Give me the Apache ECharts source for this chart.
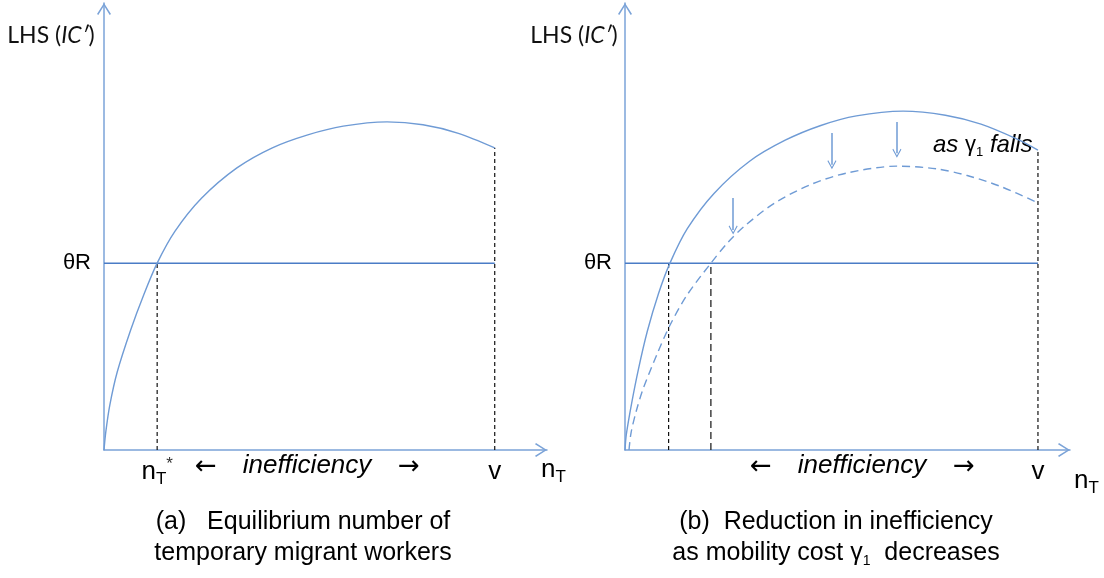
<!DOCTYPE html>
<html><head><meta charset="utf-8">
<script src="https://cdn.jsdelivr.net/npm/echarts@6/dist/echarts.min.js"></script>
<style>html,body{margin:0;padding:0;background:#fff}#c{width:1104px;height:578px}</style>
</head><body><div id="c"></div>
<script>
// ---- data (arbitrary units, axes run 0..100) ----
const thetaR = 41.8;
// panel (a)
const leftX = [0, 0.4, 1.3, 3.0, 6.0, 9.0, 12.0, 16.0, 22.0, 30.0, 38.0, 46.0, 54.0, 63.9, 72.0, 80.0, 88.2];
const leftY = [0, 4.0, 10.0, 17.5, 26.8, 34.8, 41.8, 48.9, 56.3, 63.1, 67.6, 70.5, 72.45, 73.4, 72.75, 70.85, 67.6];
const leftNStar = 12.0;
const leftV = 88.2;
// panel (b)
const solidX = [0, 0.3, 1.5, 3.0, 5.0, 7.5, 10.1, 14.0, 20.0, 28.0, 36.0, 44.0, 52.0, 62.5, 72.0, 80.0, 88.0, 92.8];
const solidY = [0, 3.5, 10.5, 18.0, 26.5, 34.9, 41.8, 49.5, 57.4, 64.6, 69.3, 72.6, 74.75, 75.8, 74.9, 72.9, 69.6, 67.1];
const dashX = [0.9, 1.35, 2.5, 4.04, 7.19, 10.1, 13.9, 19.3, 23.1, 27.0, 33.7, 42.0, 50.0, 61.1, 70.0, 76.9, 84.3, 92.8];
const dashY = [0, 3.8, 8.6, 13.6, 21.4, 27.9, 34.6, 41.8, 46.4, 50.2, 55.3, 59.5, 62.0, 63.5, 62.9, 61.4, 59.0, 55.3];
const rightN1 = 9.8;
const rightN2 = 19.3;
const rightV = 92.8;
// downward arrows "as γ1 falls": x, from y, to y
const arrowX = [24.3, 46.5, 61.1];
const arrowFrom = [56.4, 70.9, 73.4];
const arrowTo = [49.2, 63.8, 66.4];
// tick labels
const yTickLabel = 'θR';
const leftXTicks = [leftNStar, leftV];
const leftXTickLabels = ['{n|n}{t|T}{s|*}', '{v|v}'];
const rightXTicks = [rightV];
const rightXTickLabels = ['{v|v}'];

const axisColor = '#7ba3d8';
const curveColor = '#6f9bd5';
const levelColor = '#4a7cc6';
const chevron = 'path://M0,11 L7,0 L14,11 L12.7,12 L7,2.7 L1.3,12 Z';
const headPath = 'path://M0,9 L6,0 L12,9 L10.9,9.8 L6,2.4 L1.1,9.8 Z';

function zip(xs, ys) { return xs.map((x, i) => [x, ys[i]]); }
function vline(x, y) { return [[x, 0], [x, y]]; }

const labelRich = {
  n: { fontFamily: 'Liberation Sans', fontSize: 26, lineHeight: 32, color: '#000' },
  t: { fontFamily: 'Liberation Sans', fontSize: 17, lineHeight: 14, verticalAlign: 'bottom', color: '#000' },
  s: { fontFamily: 'Liberation Sans', fontSize: 17, lineHeight: 24, verticalAlign: 'top', color: '#333' },
  v: { fontFamily: 'Liberation Sans', fontSize: 26, lineHeight: 32, color: '#000' }
};

function makeX(gi, ticks, labels) {
  return {
    type: 'value', gridIndex: gi, min: 0, max: 100,
    axisLine: { show: true, onZero: false, lineStyle: { color: axisColor, width: 1.5 },
      symbol: ['none', chevron], symbolSize: [14, 12], symbolOffset: [0, -6] },
    axisTick: { show: false }, splitLine: { show: false },
    axisLabel: { show: true, customValues: ticks, margin: 6, verticalAlign: 'top',
      formatter: v => labels[ticks.indexOf(v)] || '', rich: labelRich }
  };
}
function makeY(gi) {
  return {
    type: 'value', gridIndex: gi, min: 0, max: 100,
    axisLine: { show: true, onZero: false, lineStyle: { color: axisColor, width: 1.5 },
      symbol: ['none', chevron], symbolSize: [14, 12], symbolOffset: [0, -6] },
    axisTick: { show: false }, splitLine: { show: false },
    axisLabel: { show: true, customValues: [thetaR], margin: 13, verticalAlign: 'middle',
      formatter: () => yTickLabel, fontFamily: 'Liberation Sans', fontSize: 22, color: '#000' }
  };
}

const dashStyle = { color: '#111', width: 1.2, type: [4, 3] };
function seg(name, xi, yi, data, style) {
  return { type: 'line', name, xAxisIndex: xi, yAxisIndex: yi, data, symbol: 'none', silent: true,
    lineStyle: style, z: 1 };
}
function curve(name, xi, yi, data, style) {
  return { type: 'line', name, xAxisIndex: xi, yAxisIndex: yi, data, symbol: 'none', silent: true,
    smooth: 0.3, lineStyle: style, z: 3 };
}

const series = [
  // panel (a)
  seg('thetaR-a', 0, 0, [[0, thetaR], [leftV, thetaR]], { color: levelColor, width: 1.5 }),
  seg('nstar-a', 0, 0, vline(leftNStar, thetaR), dashStyle),
  seg('v-a', 0, 0, vline(leftV, leftY[leftY.length - 1]), dashStyle),
  curve('LHS-a', 0, 0, zip(leftX, leftY), { color: curveColor, width: 1.4 }),
  // panel (b)
  seg('thetaR-b', 1, 1, [[0, thetaR], [rightV, thetaR]], { color: levelColor, width: 1.5 }),
  seg('n1-b', 1, 1, vline(rightN1, thetaR), dashStyle),
  seg('n2-b', 1, 1, vline(rightN2, thetaR), { color: '#222', width: 1.3, type: [7, 4] }),
  seg('v-b', 1, 1, vline(rightV, solidY[solidY.length - 1]), dashStyle),
  curve('LHS-b', 1, 1, zip(solidX, solidY), { color: curveColor, width: 1.4 }),
  curve('LHS-b-low', 1, 1, zip(dashX, dashY), { color: curveColor, width: 1.4, type: [8, 5] }),
  { type: 'lines', name: 'arrows', coordinateSystem: 'cartesian2d', xAxisIndex: 1, yAxisIndex: 1,
    symbol: ['none', headPath], symbolSize: [12, 9], silent: true,
    lineStyle: { color: curveColor, width: 1.5, opacity: 1 },
    data: arrowX.map((x, i) => ({ coords: [[x, arrowFrom[i]], [x, arrowTo[i]]] })), z: 4 }
];

const txt = (x, y, text, extra) => ({ type: 'text', x, y, silent: true,
  style: Object.assign({ text, fill: '#000', align: 'center', verticalAlign: 'middle',
    fontFamily: 'Liberation Sans', fontSize: 26 }, extra) });

const lhsRich = { r: { fontFamily: 'Lato', fontSize: 23, fill: '#111' },
  i: { fontFamily: 'Lato', fontStyle: 'italic', fontSize: 23, fill: '#111' } };
const nRich = {
  n: { fontFamily: 'Liberation Sans', fontSize: 26, lineHeight: 32, fill: '#000' },
  t: { fontFamily: 'Liberation Sans', fontSize: 17, lineHeight: 14, verticalAlign: 'bottom', fill: '#000' }
};
const capRich = {
  a: { fontFamily: 'Liberation Sans', fontSize: 25, lineHeight: 30, fill: '#000' },
  g: { fontFamily: 'Liberation Sans', fontSize: 25, lineHeight: 30, fill: '#000' },
  s: { fontFamily: 'Liberation Sans', fontSize: 14, lineHeight: 14, verticalAlign: 'bottom', fill: '#000' }
};
const fallRich = {
  i: { fontFamily: 'Liberation Sans', fontStyle: 'italic', fontSize: 24, lineHeight: 28, fill: '#000' },
  g: { fontFamily: 'Liberation Sans', fontSize: 22, lineHeight: 28, fill: '#000' },
  s: { fontFamily: 'Liberation Sans', fontSize: 13, lineHeight: 12, verticalAlign: 'bottom', fill: '#000' }
};
const arrowFont = { fontFamily: 'DejaVu Sans', fontSize: 26 };

const graphic = [
  txt(51, 36, '{r|LHS (}{i|IC′}{r|)}', { rich: lhsRich }),
  txt(574, 36, '{r|LHS (}{i|IC′}{r|)}', { rich: lhsRich }),
  txt(541, 470, '{n|n}{t|T}', { rich: nRich, align: 'left' }),
  txt(1074, 481, '{n|n}{t|T}', { rich: nRich, align: 'left' }),
  txt(206, 467, '←', arrowFont),
  txt(307, 466, 'inefficiency', { fontStyle: 'italic' }),
  txt(409, 467, '→', arrowFont),
  txt(761, 467, '←', arrowFont),
  txt(862, 466, 'inefficiency', { fontStyle: 'italic' }),
  txt(964, 467, '→', arrowFont),
  txt(933, 145, '{i|as }{g|γ}{s|1}{i| falls}', { rich: fallRich, align: 'left' }),
  txt(303, 522, '{a|(a)   Equilibrium number of}', { rich: capRich }),
  txt(303, 553, '{a|temporary migrant workers}', { rich: capRich }),
  txt(836, 522, '{a|(b)  Reduction in inefficiency}', { rich: capRich }),
  txt(836, 553, '{a|as mobility cost }{g|γ}{s|1}{a|  decreases}', { rich: capRich })
];

const chart = echarts.init(document.getElementById('c'), null, { renderer: 'canvas' });
chart.setOption({
  animation: false,
  backgroundColor: '#fff',
  grid: [
    { left: 104, top: 3, width: 443, height: 447 },
    { left: 625, top: 3, width: 445, height: 447 }
  ],
  xAxis: [makeX(0, leftXTicks, leftXTickLabels), makeX(1, rightXTicks, rightXTickLabels)],
  yAxis: [makeY(0), makeY(1)],
  series,
  graphic
});
</script></body></html>
